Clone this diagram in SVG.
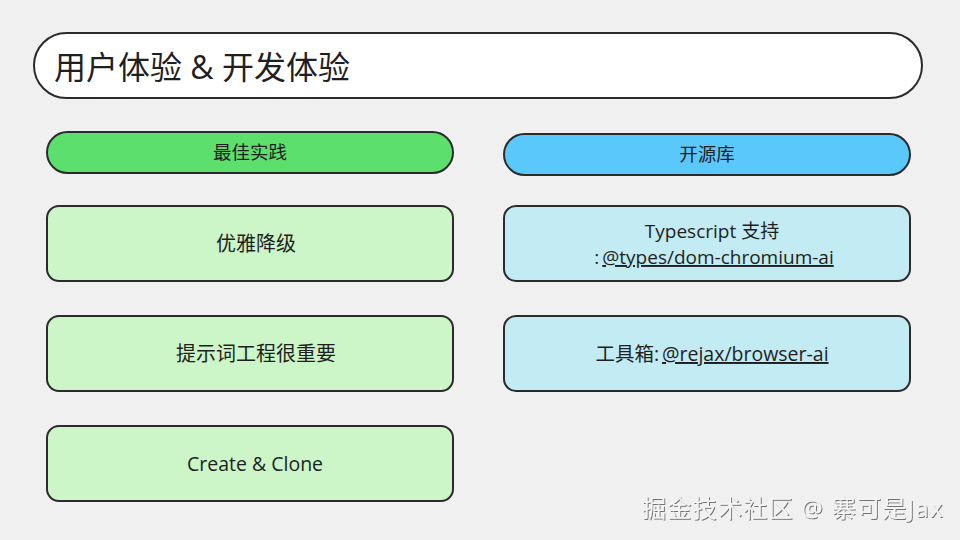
<svg xmlns="http://www.w3.org/2000/svg" width="960" height="540" viewBox="0 0 960 540">
<style>
text{font-family:"Google Sans","Open Sans","Noto Sans","Noto Sans CJK SC",sans-serif;fill:#1f1f1f}
.box{stroke:#2b2b2b;stroke-width:2}
.g{fill:#ccf5c8}
.b{fill:#c2ebf3}
.t{font-size:19.5px;text-anchor:middle}
.h{font-size:18.5px;text-anchor:middle}
.u{text-decoration:underline}
</style>
<defs>
<filter id="sh" x="-5%" y="-20%" width="110%" height="140%"><feDropShadow dx="1" dy="1" stdDeviation="0.6" flood-color="#555" flood-opacity="0.8"/></filter>
</defs>
<rect width="960" height="540" fill="#f0f0f0"/>
<g id="title">
<rect class="box" x="34" y="33" width="888" height="65" rx="32.5" fill="#ffffff"/>
<text x="54" y="79" font-size="32" font-family="'Noto Sans CJK SC',sans-serif">用户体验 &amp; 开发体验</text>
</g>
<g id="best">
<rect class="box" x="47" y="132" width="406" height="41" rx="20.5" fill="#5ddf6e"/>
<text class="h" x="250" y="159">最佳实践</text>
</g>
<g id="n1">
<rect class="box g" x="47" y="206" width="406" height="75" rx="12"/>
<text class="t" x="256" y="251" style="font-size:20px">优雅降级</text>
</g>
<g id="n2">
<rect class="box g" x="47" y="316" width="406" height="75" rx="12"/>
<text class="t" x="256" y="361" style="font-size:20px">提示词工程很重要</text>
</g>
<g id="n3">
<rect class="box g" x="47" y="426" width="406" height="75" rx="12"/>
<text class="t" x="255" y="471">Create &amp; Clone</text>
</g>
<g id="oss">
<rect class="box" x="504" y="134" width="406" height="41" rx="20.5" fill="#5ac8fa"/>
<text class="h" x="707" y="161">开源库</text>
</g>
<g id="n4">
<rect class="box b" x="504" y="206" width="406" height="75" rx="12"/>
<text class="t" x="712" y="238" style="font-size:19px">Typescript 支持</text>
<text class="t" x="714" y="264" style="font-size:19px">:<tspan class="u" dx="3">@types/dom-chromium-ai</tspan></text>
</g>
<g id="n5">
<rect class="box b" x="504" y="316" width="406" height="75" rx="12"/>
<text class="t" x="712" y="361">工具箱:<tspan class="u" dx="3">@rejax/browser-ai</tspan></text>
</g>
<g id="connectors"></g>
<text x="642" y="517" font-size="24" letter-spacing="1.3" style="fill:#f4f4f4" filter="url(#sh)" font-family="'Noto Sans CJK SC',sans-serif">掘金技术社区 @ 寨可是Jax</text>
</svg>
